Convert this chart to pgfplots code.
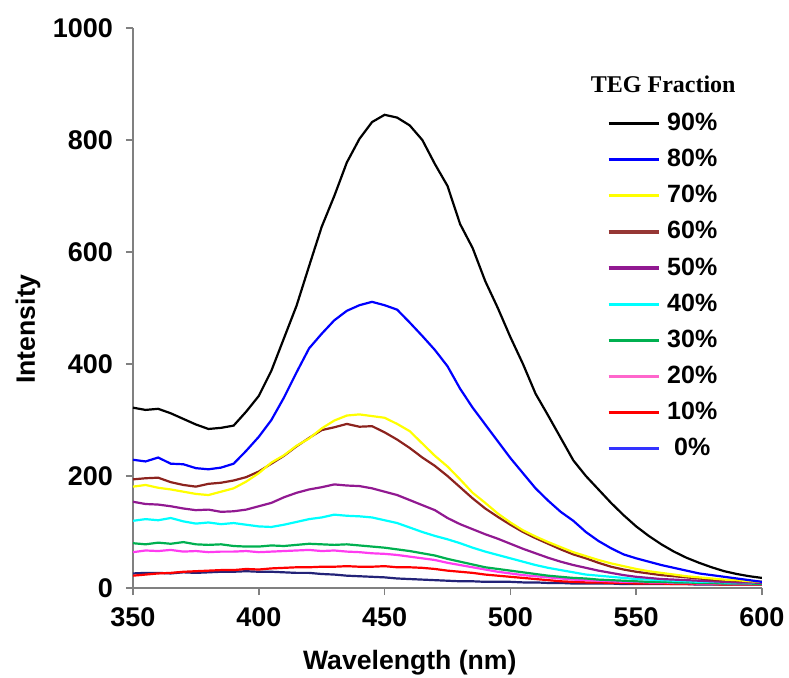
\documentclass[border=0pt]{standalone}
\usepackage{fontspec}
\setmainfont{Liberation Sans}
\newfontfamily\timesfont{Liberation Serif}
\usepackage{pgfplots}
\pgfplotsset{compat=1.18}
\usepackage{pgfplotstable}

\definecolor{axisgray}{RGB}{128,128,128}
\definecolor{cNinety}{RGB}{0,0,0}
\definecolor{cEighty}{RGB}{0,0,255}
\definecolor{cSeventy}{RGB}{255,255,0}
\definecolor{cSixty}{RGB}{140,35,30}
\definecolor{cSixtyL}{RGB}{150,55,53}
\definecolor{cFifty}{RGB}{145,25,145}
\definecolor{cForty}{RGB}{0,255,255}
\definecolor{cThirty}{RGB}{0,176,80}
\definecolor{cTwenty}{RGB}{255,60,240}
\definecolor{cTwentyL}{RGB}{255,102,204}
\definecolor{cTen}{RGB}{255,0,0}
\definecolor{cZero}{RGB}{35,35,120}
\definecolor{cZeroL}{RGB}{51,51,255}

% emission spectra, intensity vs wavelength for each TEG fraction
\pgfplotstableread{
wl  s90 s80 s70 s60 s50 s40 s30 s20 s10 s0
350 322 229 181 194 154 120 80 64 22 26
355 318 226 184 196 150 123 78 67 24 27
360 320 233 179 197 149 121 81 66 26 27
365 312 222 176 189 146 125 79 68 27 26
370 302 221 172 184 142 119 82 65 29 28
375 292 214 168 181 139 115 78 66 30 27
380 284 212 166 186 140 117 77 64 31 28
385 286 215 172 188 136 114 78 65 32 29
390 290 222 178 192 137 116 75 65 32 29
395 315 245 190 198 140 113 74 66 34 30
400 343 270 205 208 146 110 74 64 33 29
405 388 300 224 222 152 109 76 65 35 29
410 446 340 237 236 162 113 75 66 36 28
415 504 385 254 253 170 118 77 67 37 27
420 575 428 267 268 176 123 79 68 37 27
425 645 454 285 282 180 126 78 66 38 25
430 700 478 299 287 185 131 77 67 38 24
435 760 495 308 293 183 129 78 65 39 22
440 802 505 310 288 182 128 76 64 38 21
445 832 511 307 289 178 126 74 62 38 20
450 845 505 304 278 172 121 72 61 39 19
455 840 497 293 265 166 116 69 59 37 17
460 826 474 280 250 157 108 66 56 37 16
465 800 450 258 233 148 100 62 53 36 15
470 757 425 236 218 139 93 58 50 34 14
475 718 396 217 200 125 87 52 45 31 13
480 650 356 194 180 114 80 47 41 29 12
485 607 322 170 160 105 72 42 37 27 12
490 548 292 152 142 96 65 37 33 24 11
495 500 262 133 127 88 59 34 29 22 11
500 448 232 117 113 79 53 31 26 20 11
505 400 205 103 100 70 47 28 23 18 10
510 347 178 92 89 62 41 25 21 16 10
515 308 156 82 79 54 36 22 19 14 9
520 268 136 73 69 47 32 20 17 12 9
525 228 120 64 60 41 28 18 15 11 8
530 200 100 57 53 36 24 17 14 10 8
535 176 84 50 45 31 22 15 13 10 8
540 152 71 44 38 27 20 14 12 9 8
545 130 60 39 33 23 18 13 11 9 7
550 110 53 34 29 20 16 12 11 8 7
555 93 47 30 26 18 15 11 10 8 7
560 78 41 27 23 16 14 11 10 8 7
565 65 36 24 21 15 13 10 9 7 7
570 54 31 21 19 14 12 10 9 7 7
575 45 26 19 17 13 11 9 8 7 6
580 37 23 17 15 12 11 9 8 7 6
585 30 20 15 14 11 10 8 8 6 6
590 25 17 14 13 10 10 8 7 6 6
595 21 14 12 12 10 9 8 7 6 6
600 18 11 11 11 9 9 7 7 6 6
}\spectra

\begin{document}
\begin{tikzpicture}
\begin{axis}[
  at={(0,0)}, anchor=south west,
  scale only axis, width=314.5pt, height=280pt,
  xmin=350, xmax=600, ymin=0, ymax=1000,
  xtick={350,400,...,600}, ytick={0,200,...,1000},
  axis lines=left,
  axis line style={-, draw=axisgray, line width=0.8pt},
  tick style={draw=axisgray, line width=0.8pt},
  tick align=outside, major tick length=3.5pt,
  /pgf/number format/assume math mode=true,
  /pgf/number format/1000 sep={},
  tick label style={font=\bfseries\fontsize{13.5}{16}\selectfont},
  yticklabel style={xshift=-3pt},
  xticklabel style={yshift=-3pt},
  xlabel={Wavelength (nm)}, ylabel={Intensity},
  label style={font=\bfseries\fontsize{13.3}{16}\selectfont},
  xlabel style={at={(axis description cs:0.44,-0.134)}, anchor=center},
  ylabel style={at={(axis description cs:-0.167,0.4625)}, anchor=center},
  legend style={at={(axis description cs:0.753,0.8496)}, anchor=north west,
    draw=none, fill=none, inner sep=0pt, row sep=9.05pt,
    font=\bfseries\fontsize{12.5}{15}\selectfont,
    nodes={inner sep=0pt, text height=9pt, text depth=0pt},
    /tikz/every odd column/.append style={column sep=3.5pt}},
  legend image code/.code={\draw[#1, line width=1.6pt] (0pt,-1pt) -- (25pt,-1pt);},
  every axis plot/.append style={line width=1.1pt, forget plot},
]
\addplot[cZero] table[x=wl, y=s0] {\spectra};
\addplot[cTen] table[x=wl, y=s10] {\spectra};
\addplot[cTwenty] table[x=wl, y=s20] {\spectra};
\addplot[cThirty] table[x=wl, y=s30] {\spectra};
\addplot[cForty] table[x=wl, y=s40] {\spectra};
\addplot[cFifty] table[x=wl, y=s50] {\spectra};
\addplot[cSixty] table[x=wl, y=s60] {\spectra};
\addplot[cSeventy] table[x=wl, y=s70] {\spectra};
\addplot[cEighty] table[x=wl, y=s80] {\spectra};
\addplot[cNinety] table[x=wl, y=s90] {\spectra};

\addlegendimage{cNinety}\addlegendentry{90\%}
\addlegendimage{cEighty}\addlegendentry{80\%}
\addlegendimage{cSeventy}\addlegendentry{70\%}
\addlegendimage{cSixtyL}\addlegendentry{60\%}
\addlegendimage{cFifty}\addlegendentry{50\%}
\addlegendimage{cForty}\addlegendentry{40\%}
\addlegendimage{cThirty}\addlegendentry{30\%}
\addlegendimage{cTwentyL}\addlegendentry{20\%}
\addlegendimage{cTen}\addlegendentry{10\%}
\addlegendimage{cZeroL}\addlegendentry{0\%}

\node[font=\timesfont\bfseries\fontsize{12}{14}\selectfont] at (axis description cs:0.843,0.9) {TEG Fraction};
\end{axis}
\pgfresetboundingbox
\path[use as bounding box] (-66.5pt,-44.5pt) rectangle (328pt,294pt);
\end{tikzpicture}
\end{document}
